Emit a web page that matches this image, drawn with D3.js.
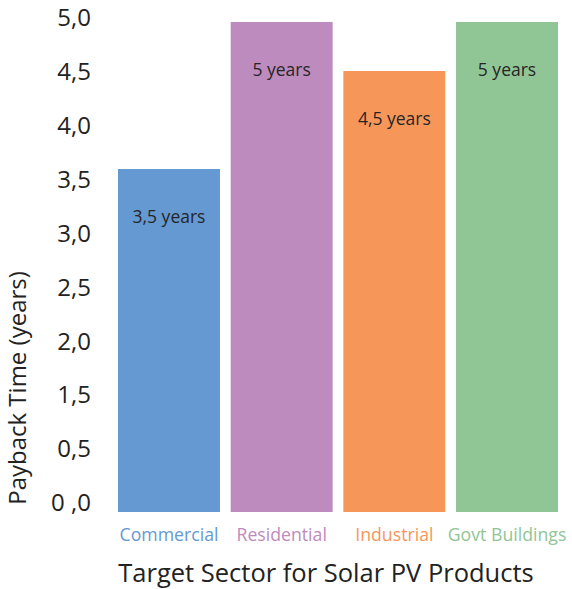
<!DOCTYPE html>
<html>
<head>
<meta charset="utf-8">
<script src="https://cdn.jsdelivr.net/npm/d3@7/dist/d3.min.js"></script>
<style>
  body { margin: 0; background: #fff; }
  text { font-family: "Open Sans", "Noto Sans", sans-serif; }
</style>
</head>
<body>
<div id="chart"></div>
<script>
// data
var sectors = ["Commercial", "Residential", "Industrial", "Govt Buildings"]
var payback = [3.5, 5, 4.5, 5]
var barLabels = ["3,5 years", "5 years", "4,5 years", "5 years"]
var colors = ["#6599d2", "#bd8bbd", "#f79659", "#90c596"]
// tick labels as printed on the original axis (top to bottom)
var tickLabels = ["5,0", "4,5", "4,0", "3,5", "3,0", "2,5", "2,0", "1,5", "0,5", "0 ,0"]

var width = 572, height = 589

var svg = d3.select("#chart").append("svg")
    .attr("width", width)
    .attr("height", height)

var x = d3.scaleBand()
    .domain(sectors)
    .range([118, 558])
    .paddingInner(0.095)
    .paddingOuter(0)

var y = d3.scaleLinear()
    .domain([0, 5])
    .range([512, 22])

// axis labels spaced evenly like the source
var yTicks = d3.scalePoint()
    .domain(tickLabels)
    .range([18, 503])

var yAxis = svg.append("g")
    .attr("transform", "translate(96,0)")
    .call(d3.axisLeft(yTicks).tickSize(0).tickPadding(5))
yAxis.select(".domain").remove()
yAxis.selectAll("text")
    .attr("font-size", 24)
    .attr("font-family", "'Open Sans', sans-serif")
    .attr("fill", "#222")

// bars
svg.selectAll("rect.bar")
    .data(sectors)
    .enter().append("rect")
    .attr("class", "bar")
    .attr("x", d => x(d))
    .attr("y", (d, i) => y(payback[i]))
    .attr("width", x.bandwidth())
    .attr("height", (d, i) => y(0) - y(payback[i]))
    .attr("fill", (d, i) => colors[i])

// labels inside bars
svg.selectAll("text.val")
    .data(sectors)
    .enter().append("text")
    .attr("class", "val")
    .attr("x", d => x(d) + x.bandwidth() / 2)
    .attr("y", (d, i) => y(payback[i]) + 54)
    .attr("text-anchor", "middle")
    .attr("font-size", 17.5)
    .attr("fill", "#262626")
    .text((d, i) => barLabels[i])

// category labels
var xAxis = svg.append("g")
    .attr("transform", "translate(0,512)")
    .call(d3.axisBottom(x).tickSize(0).tickPadding(16))
xAxis.select(".domain").remove()
xAxis.selectAll("text")
    .attr("font-size", 17.7)
    .attr("font-family", "'Open Sans', sans-serif")
    .attr("fill", (d, i) => colors[i])

// axis titles
svg.append("text")
    .attr("x", 326)
    .attr("y", 582)
    .attr("text-anchor", "middle")
    .attr("font-size", 25.5)
    .attr("fill", "#222")
    .text("Target Sector for Solar PV Products")

svg.append("text")
    .attr("transform", "translate(26,388) rotate(-90)")
    .attr("text-anchor", "middle")
    .attr("font-size", 24)
    .attr("fill", "#222")
    .text("Payback Time (years)")
</script>
</body>
</html>
